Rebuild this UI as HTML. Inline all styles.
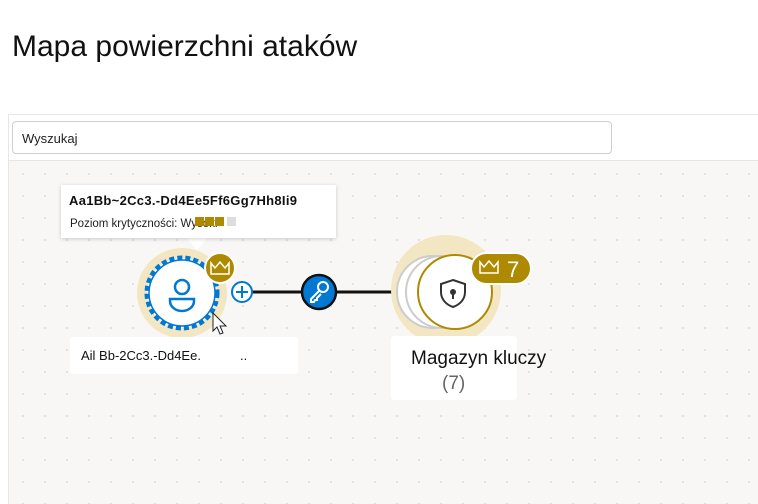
<!DOCTYPE html>
<html><head><meta charset="utf-8"><style>
body{margin:0;width:758px;height:503px;overflow:hidden;background:#fff;font-family:"Liberation Sans",sans-serif;position:relative}
.abs{position:absolute}
</style></head><body>
<div class="abs" style="left:12px;top:30px;font-size:30px;color:#111">Mapa powierzchni ataków</div>
<div class="abs" style="left:8px;top:114px;width:750px;height:389px;border-top:1px solid #e6e6e6;border-left:1px solid #e6e6e6"></div>
<div class="abs" style="left:9px;top:160px;width:749px;height:343px;border-top:1px solid #e6e6e6;background-color:#f8f7f5;background-image:radial-gradient(circle,#e0deda 0.8px,transparent 1.2px);background-size:22px 22px;background-position:3px 2px"></div>
<div class="abs" style="left:12px;top:121px;width:598px;height:31px;border:1px solid #cfcfcf;border-radius:4px;background:#fff"></div>
<div class="abs" style="left:22px;top:131px;font-size:13px;color:#222">Wyszukaj</div>

<svg class="abs" style="left:0;top:0" width="758" height="503">
 <line x1="252" y1="292" x2="410" y2="292" stroke="#111" stroke-width="3"/>
 <circle cx="182" cy="293" r="45" fill="#f3e6c3"/>
 <circle cx="182" cy="293" r="35" fill="#fff" stroke="#0078d4" stroke-width="5" stroke-dasharray="5 3"/>
 <circle cx="182" cy="293" r="33" fill="none" stroke="#0078d4" stroke-width="1.5"/>
 <circle cx="182" cy="287" r="7" fill="none" stroke="#0078d4" stroke-width="2.5"/>
 <path d="M170 299 h24 v2 a12 10 0 0 1 -24 0 z" fill="none" stroke="#0078d4" stroke-width="2.5"/>
 <circle cx="220" cy="268" r="15" fill="#ae8a00" stroke="#fff" stroke-width="2"/>
 <path d="M211 263 l4 5 l5 -6 l5 6 l4 -5 v11 h-18 z" fill="none" stroke="#fff" stroke-width="1.5"/>
 <circle cx="242" cy="292" r="10" fill="#fff" stroke="#0078d4" stroke-width="2"/>
 <path d="M236 292 h12 M242 286 v12" stroke="#0078d4" stroke-width="2"/>
 <path d="M213 313 v18 l4 -4 l3 7 l3 -1 l-3 -7 h6 z" fill="#fff" stroke="#222" stroke-width="1"/>
 <circle cx="319" cy="292" r="17" fill="#0078d4" stroke="#111" stroke-width="2.5"/>
 <circle cx="323" cy="287" r="5" fill="none" stroke="#fff" stroke-width="2"/>
 <path d="M319 291 l-8 8 v3 h3 l1 -2 h2 v-2 l4 -4" fill="none" stroke="#fff" stroke-width="2"/>
 <circle cx="446" cy="290" r="55" fill="#f3e6c3"/>
 <circle cx="433" cy="292" r="36" fill="#fff" stroke="#ccc" stroke-width="2"/>
 <circle cx="442" cy="292" r="36" fill="#fff" stroke="#ccc" stroke-width="2"/>
 <circle cx="455" cy="292" r="37" fill="#fff" stroke="#ae8a00" stroke-width="2"/>
 <path d="M453 280 l12 4 v8 c0 8 -6 13 -12 15 c-6 -2 -12 -7 -12 -15 v-8 z" fill="none" stroke="#333" stroke-width="2"/>
 <circle cx="453" cy="292" r="3" fill="#333"/><path d="M453 293 v6" stroke="#333" stroke-width="2"/>
 <rect x="471" y="253" width="60" height="31" rx="15.5" fill="#ae8a00" stroke="#fff" stroke-width="2"/>
 <path d="M480 262 l4 5 l5 -6 l5 6 l4 -5 v11 h-18 z" fill="none" stroke="#fff" stroke-width="1.5"/>
 <text x="507" y="277" font-family="Liberation Sans" font-size="22" fill="#fff">7</text>
 <path d="M186 237 L197 250 L208 237 z" fill="#fff"/>
</svg>

<div class="abs" style="left:61px;top:185px;width:275px;height:53px;background:#fff;box-shadow:0 1px 4px rgba(0,0,0,.18)"></div>
<div class="abs" style="left:69px;top:193px;font-size:13px;font-weight:bold;color:#111;letter-spacing:.3px">Aa1Bb~2Cc3.-Dd4Ee5Ff6Gg7Hh8Ii9</div>
<div class="abs" style="left:70px;top:218px;font-size:11.5px;color:#222">Poziom krytyczności: Wysoki</div>
<div class="abs" style="left:195px;top:217px;width:9px;height:9px;background:#ae8a00"></div>
<div class="abs" style="left:205px;top:217px;width:9px;height:9px;background:#ae8a00"></div>
<div class="abs" style="left:215px;top:217px;width:9px;height:9px;background:#ae8a00"></div>
<div class="abs" style="left:227px;top:217px;width:9px;height:9px;background:#ddd"></div>

<div class="abs" style="left:70px;top:337px;width:228px;height:37px;background:#fff;border-radius:3px"></div>
<div class="abs" style="left:81px;top:348px;font-size:13px;color:#111">Ail Bb-2Cc3.-Dd4Ee.</div>
<div class="abs" style="left:240px;top:348px;font-size:13px;color:#111">..</div>

<div class="abs" style="left:391px;top:336px;width:126px;height:64px;background:#fff;border-radius:3px"></div>
<div class="abs" style="left:411px;top:348px;font-size:19px;color:#111">Magazyn kluczy</div>
<div class="abs" style="left:442px;top:373px;font-size:19px;color:#666">(7)</div>
</body></html>
